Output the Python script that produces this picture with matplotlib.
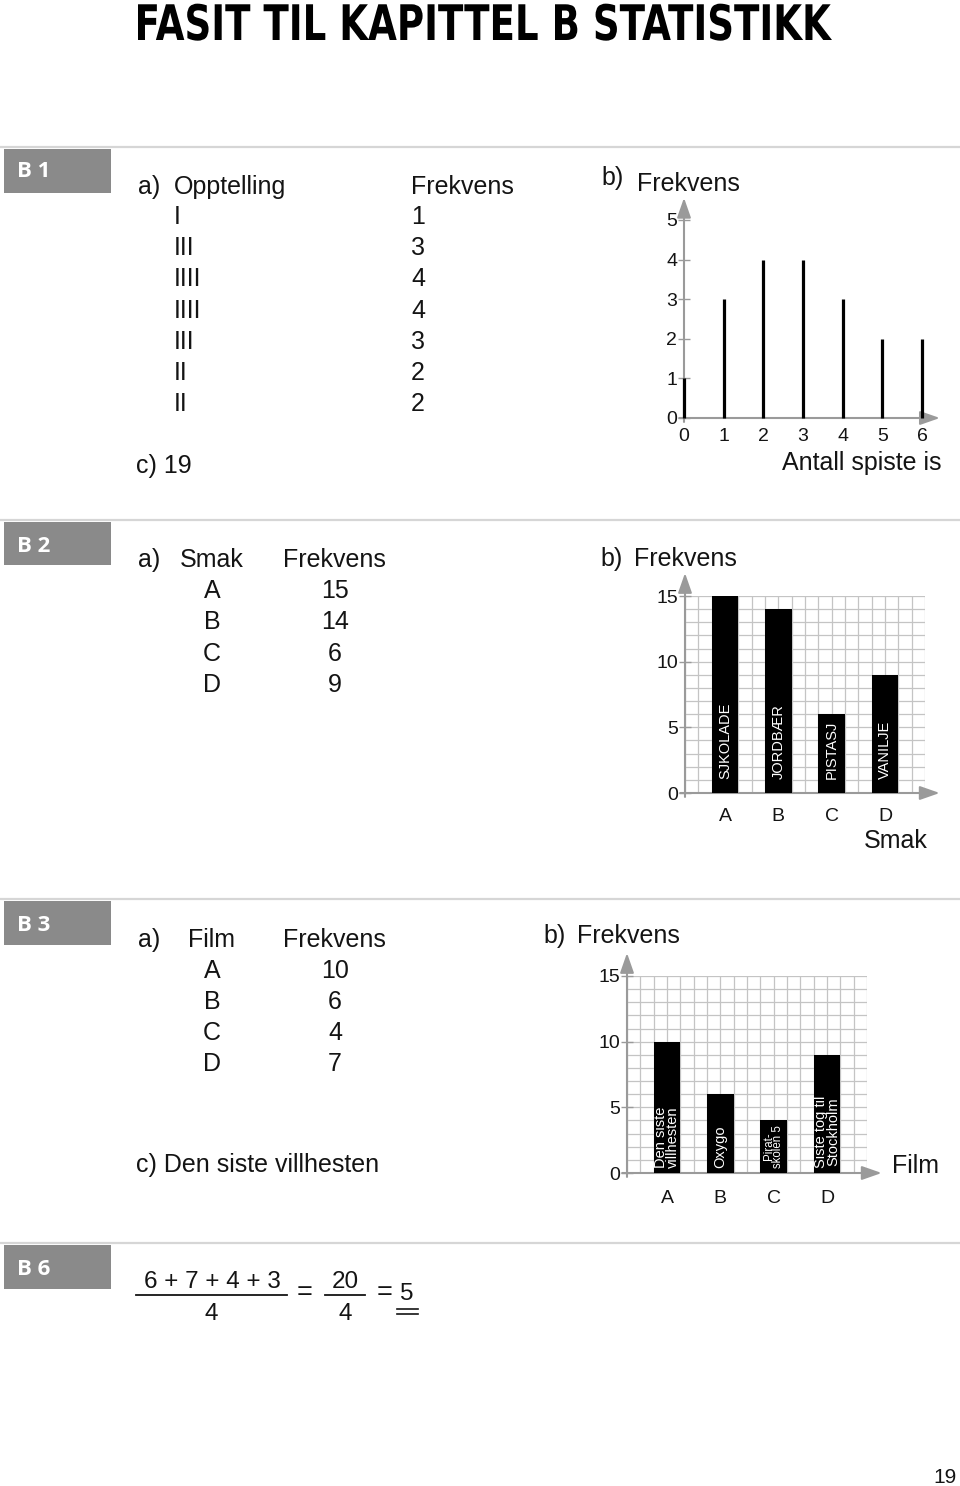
import numpy as np
import matplotlib
matplotlib.use("Agg")
import matplotlib.pyplot as plt
from matplotlib.patches import Rectangle, PathPatch
from matplotlib.textpath import TextPath
from matplotlib.font_manager import FontProperties
from matplotlib.transforms import Affine2D

plt.rcParams['font.family'] = ['Liberation Sans', 'DejaVu Sans']

# --- data ---
b1_tally = ["I", "III", "IIII", "IIII", "III", "II", "II"]
b1_antall = [0, 1, 2, 3, 4, 5, 6]
b1_frekvens = [1, 3, 4, 4, 3, 2, 2]

b2_smak = ["A", "B", "C", "D"]
b2_navn = ["SJKOLADE", "JORDBÆR", "PISTASJ", "VANILJE"]
b2_frekvens = [15, 14, 6, 9]

b3_film = ["A", "B", "C", "D"]
b3_titler = ["Den siste\nvillhesten", "Oxygo", "Pirat-\nskolen 5", "Siste tog til\nStockholm"]
b3_frekvens = [10, 6, 4, 7]        # tabellen
b3_stolper = [10, 6, 4, 9]         # slik stolpene er tegnet

b6_verdier = [6, 7, 4, 3]

W, H = 960, 1486
GREY = '#9a9a9a'
GRID = '#c4c4c4'
INK = '#141414'
FS = 18
TICK_FS = 14

fig = plt.figure(figsize=(W / 100, H / 100), dpi=100)
page = fig.add_axes([0, 0, 1, 1])
page.set_xlim(0, W)
page.set_ylim(H, 0)
page.axis('off')


def px_axes(x0, y0, x1, y1):
    return fig.add_axes([x0 / W, 1 - y1 / H, (x1 - x0) / W, (y1 - y0) / H])


def txt(x, y, s, ha='left', fs=FS, **kw):
    page.text(x, y, s, ha=ha, va='baseline', fontsize=fs, color=INK, **kw)


def akser(ax, xtip, ytip):
    ax.set_facecolor('none')
    for sp in ax.spines.values():
        sp.set_visible(False)
    aprops = dict(arrowstyle='-|>,head_length=1.2,head_width=0.42', color=GREY,
                  lw=1.5, shrinkA=0, shrinkB=0)
    x0, x1 = ax.get_xlim()
    y0, y1 = ax.get_ylim()
    ax.annotate('', xy=(xtip, 0), xytext=(x0 - 0.02 * (x1 - x0), 0),
                arrowprops=aprops, annotation_clip=False)
    ax.annotate('', xy=(0, ytip), xytext=(0, y0 - 0.02 * (y1 - y0)),
                arrowprops=aprops, annotation_clip=False)
    ax.tick_params(axis='y', direction='inout', length=8, width=1, color=GREY,
                   labelsize=TICK_FS, pad=1, labelcolor=INK)
    ax.tick_params(axis='x', length=0, labelsize=TICK_FS, labelcolor=INK)


# --- title (condensed bold, squeezed to the page width) ---
tittel = "FASIT TIL KAPITTEL B STATISTIKK"
tp = TextPath((0, 0), tittel, size=49, prop=FontProperties(family='DejaVu Sans', weight='bold'))
ext = tp.get_extents()
sx = 694 / ext.width
tr = Affine2D().translate(-ext.x0, 0).scale(sx, -1).translate(138, 40)
page.add_patch(PathPatch(tr.transform_path(tp), color='black', lw=0))

# --- section headers ---
for label, line_y, box_top, box_bot, base in [("B 1", 147, 149, 193, 177),
                                              ("B 2", 520, 522, 565, 552),
                                              ("B 3", 899, 901, 945, 931),
                                              ("B 6", 1243, 1245, 1289, 1275)]:
    page.plot([0, W], [line_y, line_y], color='#d6d6d6', lw=1.6, solid_capstyle='butt')
    page.add_patch(Rectangle((4, box_top), 107, box_bot - box_top, color='#8a8a8a', lw=0))
    page.text(17, base, label, ha='left', va='baseline', fontsize=16, fontweight='bold',
              family=['Open Sans', 'DejaVu Sans'], color='white')

# --- B1 a) ---
txt(138, 194, "a)")
txt(174, 194, "Opptelling")
txt(411, 194, "Frekvens")
for i, (t, f) in enumerate(zip(b1_tally, b1_frekvens)):
    y = 224 + 31.2 * i
    txt(174, y, t)
    txt(411, y, str(f))
txt(136, 473, f"c) {sum(b1_frekvens)}")

# --- B1 b) ---
txt(601, 185, "b)")
txt(637, 191, "Frekvens")
ax1 = px_axes(684, 220, 922, 418)
ax1.set_xlim(0, 6)
ax1.set_ylim(0, 5)
akser(ax1, 6.45, 5.56)
ax1.vlines(b1_antall, 0, b1_frekvens, colors='black', lw=2.3, clip_on=False, zorder=3)
ax1.set_yticks(range(0, 6))
ax1.set_xticks(b1_antall)
ax1.tick_params(axis='x', pad=7)
txt(941, 470, "Antall spiste is", ha='right')

# --- B2 a) ---
txt(138, 567, "a)")
txt(180, 567, "Smak")
txt(283, 567, "Frekvens")
for i, (s, f) in enumerate(zip(b2_smak, b2_frekvens)):
    y = 598 + 31.3 * i
    txt(212, y, s, ha='center')
    txt(335, y, str(f), ha='center')

# --- B2 b) ---
txt(600, 566, "b)")
txt(634, 566, "Frekvens")
ax2 = px_axes(685, 596, 925, 793)
ax2.set_xlim(0, 18)
ax2.set_ylim(0, 15)
ax2.vlines(np.arange(0, 19), 0, 15, colors=GRID, lw=0.9, zorder=1)
ax2.hlines(np.arange(0, 16), 0, 18, colors=GRID, lw=0.9, zorder=1)
akser(ax2, 19.1, 16.75)
pos2 = 3 + 4 * np.arange(len(b2_smak))
ax2.bar(pos2, b2_frekvens, width=2, color='black', zorder=3)
for p, n in zip(pos2, b2_navn):
    ax2.text(p, 1.1, n, rotation=90, ha='center', va='bottom', color='white',
             fontsize=10.5, zorder=4)
ax2.set_yticks([0, 5, 10, 15])
ax2.set_xticks(pos2)
ax2.set_xticklabels(b2_smak)
ax2.tick_params(axis='x', pad=11)
txt(928, 848, "Smak", ha='right')

# --- B3 a) ---
txt(138, 947, "a)")
txt(188, 947, "Film")
txt(283, 947, "Frekvens")
for i, (s, f) in enumerate(zip(b3_film, b3_frekvens)):
    y = 978 + 31 * i
    txt(212, y, s, ha='center')
    txt(335, y, str(f), ha='center')
txt(136, 1172, "c) Den siste villhesten")

# --- B3 b) ---
txt(543, 943, "b)")
txt(577, 943, "Frekvens")
ax3 = px_axes(627, 976, 867, 1173)
ax3.set_xlim(0, 18)
ax3.set_ylim(0, 15)
ax3.vlines(np.arange(0, 19), 0, 15, colors=GRID, lw=0.9, zorder=1)
ax3.hlines(np.arange(0, 16), 0, 18, colors=GRID, lw=0.9, zorder=1)
akser(ax3, 19.1, 16.75)
pos3 = 3 + 4 * np.arange(len(b3_film))
ax3.bar(pos3, b3_stolper, width=2, color='black', zorder=3)
for p, t in zip(pos3, b3_titler):
    small = t.startswith("Pirat")
    ax3.text(p, 0.4, t, rotation=90, ha='center', va='bottom', color='white',
             fontsize=8.3 if small else 10.5, linespacing=0.7 if small else 0.85, zorder=4)
ax3.set_yticks([0, 5, 10, 15])
ax3.set_xticks(pos3)
ax3.set_xticklabels(b3_film)
ax3.tick_params(axis='x', pad=12)
txt(892, 1173, "Film")

# --- B6 ---
teller = " + ".join(str(v) for v in b6_verdier)
n = len(b6_verdier)
total = sum(b6_verdier)
B6_FS = 17.5
txt(212, 1288, teller, ha='center', fs=B6_FS)
page.plot([136, 287], [1295, 1295], color=INK, lw=1.3)
txt(211, 1320, str(n), ha='center', fs=B6_FS)
page.text(305, 1293, "=", ha='center', va='center', fontsize=B6_FS + 2, color=INK)
txt(345, 1288, str(total), ha='center', fs=B6_FS)
page.plot([325, 365], [1295, 1295], color=INK, lw=1.3)
txt(345, 1320, str(n), ha='center', fs=B6_FS)
page.text(385, 1293, "=", ha='center', va='center', fontsize=B6_FS + 2, color=INK)
txt(407, 1300, f"{total // n}", ha='center', fs=B6_FS)
page.plot([397, 418], [1309, 1309], color=INK, lw=1.2)
page.plot([397, 418], [1314, 1314], color=INK, lw=1.2)

# --- page number ---
txt(957, 1483, "19", ha='right', fs=15)

fig.savefig("out.png", dpi=100)
